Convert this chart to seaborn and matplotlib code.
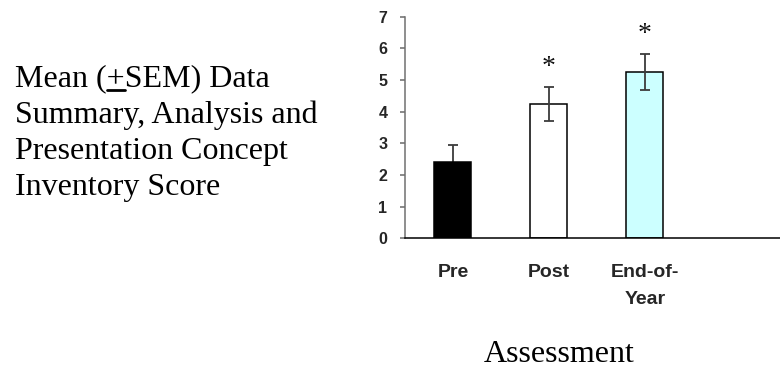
import matplotlib
matplotlib.use("Agg")
import matplotlib.pyplot as plt
import seaborn as sns
from matplotlib.lines import Line2D

# Concept inventory scores by assessment point
categories = ["Pre", "Post", "End-of-\nYear"]
means = [2.42, 4.24, 5.26]
sems = [0.53, 0.53, 0.56]
bar_colors = ["#000000", "#FFFFFF", "#CCFFFF"]
significant = [False, True, True]
y_ticks = [0, 1, 2, 3, 4, 5, 6, 7]

side_lines = ["Mean (+SEM) Data", "Summary, Analysis and",
              "Presentation Concept", "Inventory Score"]
x_title = "Assessment"

sns.set_style("white")
plt.rcParams["font.family"] = ["Liberation Sans", "DejaVu Sans"]

W, H = 780, 371
fig = plt.figure(figsize=(W / 100, H / 100), dpi=100)
ax = fig.add_axes([405 / W, (H - 238.3) / H, 375 / W, (238.3 - 16.7) / H])

sns.barplot(x=categories, y=means, hue=categories, palette=bar_colors,
            legend=False, width=0.385, edgecolor="black", linewidth=1.1,
            errorbar=None, ax=ax, saturation=1)

# Whiskers: the one on the dark bar sits behind it so only its upper half shows
for i, (m, s, c) in enumerate(zip(means, sems, bar_colors)):
    z = 0.5 if c == "#000000" else 5
    ax.errorbar([i], [m], yerr=[s], fmt="none", ecolor="#3c3c3c",
                elinewidth=1.3, capsize=3.7, capthick=1.3, zorder=z)

for i, (m, s, sig) in enumerate(zip(means, sems, significant)):
    if sig:
        ax.text(i, m + s + 0.42, "*", ha="center", va="baseline",
                fontsize=20, family="Liberation Serif", color="#111111",
                clip_on=False)

ax.set_xlim(-0.5, 3.41)
ax.set_ylim(0, 7)
ax.set_yticks(y_ticks)
ax.set_yticklabels([str(t) for t in y_ticks], fontweight="bold", fontsize=11.5)
for lab in ax.get_xticklabels():
    lab.set_fontweight("bold")
    lab.set_fontsize(14)
    lab.set_linespacing(1.75)
ax.tick_params(axis="x", length=0, pad=18.5)
ax.tick_params(axis="y", length=3.7, width=1.1, color="#6a6a6a", pad=9,
               direction="out", left=True)
ax.set_xlabel("")
ax.set_ylabel("")
sns.despine(ax=ax, top=True, right=True)
ax.spines["left"].set_color("#707070")
ax.spines["left"].set_linewidth(1.1)
ax.spines["bottom"].set_color("black")
ax.spines["bottom"].set_linewidth(1.1)

# Left-hand description in serif type
baselines = [86, 122.5, 159, 195.5]
serif = dict(family="Liberation Serif", fontsize=23, color="black")
for line, yb in zip(side_lines, baselines):
    fig.text(15 / W, (H - yb) / H, line, ha="left", va="baseline", **serif)

# Underline the plus sign in the first line
fig.canvas.draw()
renderer = fig.canvas.get_renderer()
prefix = fig.text(15 / W, (H - 86) / H, "Mean (", ha="left", va="baseline", **serif)
plus = fig.text(15 / W, (H - 86) / H, "Mean (+", ha="left", va="baseline", **serif)
x0 = prefix.get_window_extent(renderer).x1
x1 = plus.get_window_extent(renderer).x1
prefix.remove()
plus.remove()
uy = (H - 89.5) / H
fig.add_artist(Line2D([x0 / W, x1 / W], [uy, uy], transform=fig.transFigure,
                      color="black", linewidth=2.0))

fig.text(559 / W, (H - 362) / H, x_title, ha="center", va="baseline", **serif)

fig.savefig("out.png", dpi=100)
